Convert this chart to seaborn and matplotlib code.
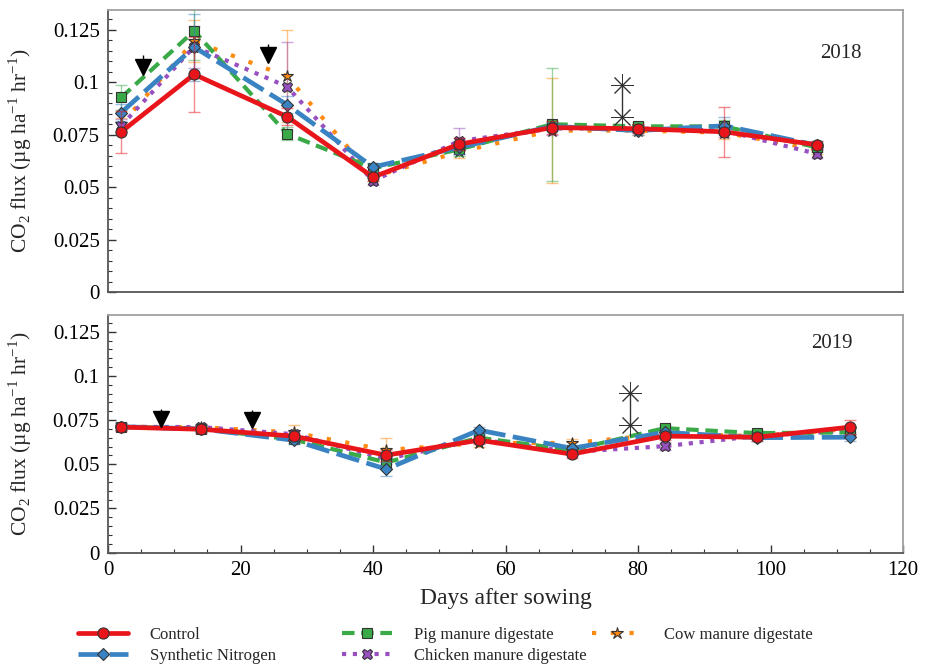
import numpy as np
import pandas as pd
import seaborn as sns
import matplotlib.pyplot as plt
from matplotlib.ticker import MultipleLocator, FuncFormatter

# Treatments
treatments = ["Control", "Synthetic Nitrogen", "Pig manure digestate",
              "Chicken manure digestate", "Cow manure digestate"]

# 2018 season
days_2018 = [2, 13, 27, 40, 53, 67, 80, 93, 107]
control_2018 = [0.0764, 0.1038, 0.0837, 0.0548, 0.0705, 0.0784, 0.0779, 0.0764, 0.0702]
synthetic_2018 = [0.0856, 0.1168, 0.0894, 0.0596, 0.0690, 0.0790, 0.0770, 0.0793, 0.0700]
pig_2018 = [0.0928, 0.1245, 0.0755, 0.0590, 0.0680, 0.0800, 0.0790, 0.0790, 0.0690]
chicken_2018 = [0.0793, 0.1170, 0.0980, 0.0530, 0.0720, 0.0780, 0.0780, 0.0770, 0.0659]
cow_2018 = [0.0800, 0.1197, 0.1029, 0.0550, 0.0668, 0.0770, 0.0770, 0.0760, 0.0680]

control_2018_err = [0.010, 0.018, 0.004, 0.002, 0.003, 0.003, 0.002, 0.012, 0.002]
synthetic_2018_err = [0.004, 0.016, 0.004, 0.002, 0.003, 0.002, 0.002, 0.004, 0.002]
pig_2018_err = [0.006, 0.014, 0.003, 0.002, 0.003, 0.027, 0.002, 0.003, 0.002]
chicken_2018_err = [0.003, 0.010, 0.021, 0.002, 0.006, 0.003, 0.002, 0.003, 0.002]
cow_2018_err = [0.003, 0.010, 0.022, 0.002, 0.003, 0.025, 0.002, 0.003, 0.002]

# 2019 season
days_2019 = [2, 14, 28, 42, 56, 70, 84, 98, 112]
control_2019 = [0.0710, 0.0698, 0.0659, 0.0551, 0.0636, 0.0557, 0.0659, 0.0653, 0.0710]
synthetic_2019 = [0.0712, 0.0700, 0.0636, 0.0472, 0.0693, 0.0590, 0.0680, 0.0650, 0.0653]
pig_2019 = [0.0712, 0.0700, 0.0640, 0.0510, 0.0650, 0.0580, 0.0704, 0.0676, 0.0680]
chicken_2019 = [0.0712, 0.0710, 0.0670, 0.0530, 0.0640, 0.0570, 0.0602, 0.0660, 0.0690]
cow_2019 = [0.0712, 0.0710, 0.0680, 0.0580, 0.0620, 0.0620, 0.0670, 0.0660, 0.0700]

control_2019_err = [0.002, 0.002, 0.002, 0.003, 0.002, 0.002, 0.002, 0.002, 0.004]
synthetic_2019_err = [0.002, 0.002, 0.002, 0.004, 0.002, 0.002, 0.002, 0.002, 0.002]
pig_2019_err = [0.002, 0.002, 0.002, 0.003, 0.002, 0.002, 0.002, 0.002, 0.002]
chicken_2019_err = [0.002, 0.002, 0.002, 0.003, 0.002, 0.002, 0.002, 0.002, 0.002]
cow_2019_err = [0.002, 0.002, 0.004, 0.007, 0.002, 0.002, 0.002, 0.002, 0.002]

# fertiliser application (arrows) and significance (asterisks)
arrow_days_2018 = [5.3, 24.2]
arrow_y_2018 = [0.1075, 0.1130]
arrow_days_2019 = [8.0, 21.7]
arrow_y_2019 = [0.0755, 0.0750]
star_day_2018 = 77.6
star_y_2018 = [0.0986, 0.0837]
star_day_2019 = 78.8
star_y_2019 = [0.0904, 0.0720]

styles = {
    "Control": dict(color="#e8151b", ls="-", marker="o", lw=3.4, ms=8, z=10),
    "Synthetic Nitrogen": dict(color="#3a83c3", ls=(0, (5, 1.6)), marker="D", lw=3.4, ms=6.5, z=8),
    "Pig manure digestate": dict(color="#3aaa48", ls=(0, (3, 1.6)), marker="s", lw=3.0, ms=7, z=6),
    "Chicken manure digestate": dict(color="#9850c0", ls=(0, (1, 1.6)), marker="X", lw=3.0, ms=7.5, z=5),
    "Cow manure digestate": dict(color="#ff8a10", ls=(0, (1, 3.5)), marker="*", lw=3.0, ms=9, z=4),
}

data_2018 = [control_2018, synthetic_2018, pig_2018, chicken_2018, cow_2018]
err_2018 = [control_2018_err, synthetic_2018_err, pig_2018_err, chicken_2018_err, cow_2018_err]
data_2019 = [control_2019, synthetic_2019, pig_2019, chicken_2019, cow_2019]
err_2019 = [control_2019_err, synthetic_2019_err, pig_2019_err, chicken_2019_err, cow_2019_err]

sns.set_style("ticks")
plt.rcParams["font.family"] = ["Liberation Serif", "DejaVu Serif"]
plt.rcParams["mathtext.fontset"] = "custom"
plt.rcParams["mathtext.rm"] = "Liberation Serif"

fig = plt.figure(figsize=(9.31, 6.65), dpi=100)
ax1 = fig.add_axes([108 / 931, 1 - 292 / 665, 795 / 931, 282 / 665])
ax2 = fig.add_axes([108 / 931, 1 - 552.5 / 665, 795 / 931, 237.5 / 665])

ylab = r"CO$_\mathregular{2}$ flux (µg ha$^\mathregular{-1}$ hr$^\mathregular{-1}$)"


def draw_panel(ax, days, data, errs, year, year_pos, arrow_x, arrow_y, star_x, star_y, legend=False):
    for name, vals, err in zip(treatments, data, errs):
        st = styles[name]
        ax.errorbar(days, vals, yerr=err, fmt="none", ecolor=st["color"], alpha=0.5,
                    elinewidth=1, capsize=4, capthick=1, zorder=st["z"] - 1)
        df = pd.DataFrame({"day": days, "flux": vals})
        sns.lineplot(data=df, x="day", y="flux", ax=ax, color=st["color"], linestyle=st["ls"],
                     lw=st["lw"], marker=st["marker"], markersize=st["ms"],
                     markeredgecolor="#333333", markeredgewidth=0.8,
                     label=name if legend else None, zorder=st["z"], legend=False)
    # arrows
    ax.plot(arrow_x, arrow_y, linestyle="none", marker="v", color="black", markersize=11, zorder=12)
    ax.vlines(arrow_x, np.array(arrow_y), np.array(arrow_y) + 0.0055, color="black", lw=1, zorder=12)
    # asterisks
    ax.plot([star_x, star_x], star_y, color="#333333", lw=1, zorder=12)
    ax.plot([star_x, star_x], star_y, linestyle="none", marker=(8, 2, 0), markersize=16,
            markeredgewidth=0.7, color="#333333", zorder=12)

    ax.set_xlim(0, 120)
    ax.set_ylim(0, 0.1345)
    ax.xaxis.set_major_locator(MultipleLocator(20))
    ax.xaxis.set_minor_locator(MultipleLocator(5))
    ax.yaxis.set_major_locator(MultipleLocator(0.025))
    ax.yaxis.set_minor_locator(MultipleLocator(0.005))
    ax.yaxis.set_major_formatter(FuncFormatter(lambda v, p: f"{v:g}"))
    ax.tick_params(which="both", direction="in", left=True, bottom=True, top=False, right=False,
                   colors="#333333", labelcolor="black", labelsize=15)
    ax.tick_params(which="major", length=6, width=1, pad=6)
    ax.tick_params(which="minor", length=3, width=0.8)
    for side in ["left", "bottom"]:
        ax.spines[side].set_color("#555555")
        ax.spines[side].set_linewidth(1.3)
    for side in ["top", "right"]:
        ax.spines[side].set_color("#a0a0a0")
        ax.spines[side].set_linewidth(1.3)
    ax.set_xlabel("")
    ax.set_ylabel(ylab, fontsize=15.5)
    ax.yaxis.set_label_coords(-0.093, 0.5)
    ax.text(year_pos[0], year_pos[1], year, transform=ax.transAxes, fontsize=15,
            ha="center", va="center")


draw_panel(ax1, days_2018, data_2018, err_2018, "2018", (0.922, 0.847),
           arrow_days_2018, arrow_y_2018, star_day_2018, star_y_2018, legend=True)
draw_panel(ax2, days_2019, data_2019, err_2019, "2019", (0.911, 0.882),
           arrow_days_2019, arrow_y_2019, star_day_2019, star_y_2019)

ax1.tick_params(axis="x", which="both", bottom=False, labelbottom=False)
ax2.set_xlabel("Days after sowing", fontsize=17, labelpad=6)

# legend in three separate columns
handles, labels = ax1.get_legend_handles_labels()
cols = [(0, 2, 78), (2, 4, 342), (4, 5, 592)]
for i0, i1, xpix in cols:
    leg = fig.legend(handles[i0:i1], labels[i0:i1], loc="upper left",
                     bbox_to_anchor=(xpix / 931, 1 - 627 / 665), frameon=False,
                     fontsize=12, handlelength=3.0, handletextpad=1.3,
                     labelspacing=0.3, borderaxespad=0, borderpad=0)

fig.savefig("out.png", dpi=100)
